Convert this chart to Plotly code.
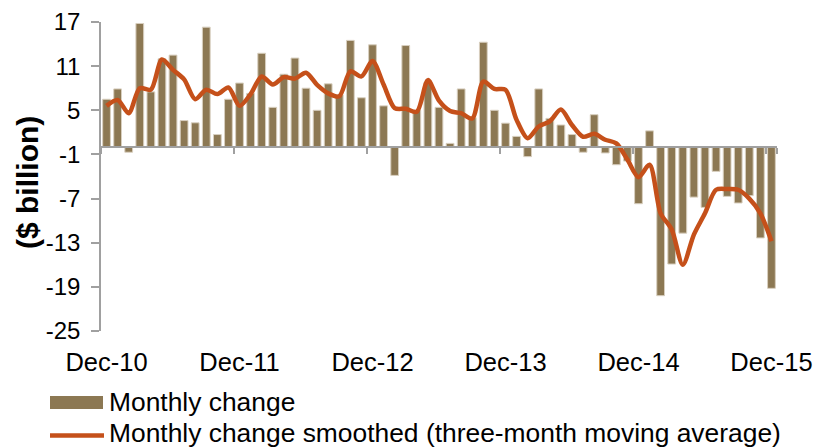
import pandas as pd
import plotly.graph_objects as go

# ---- data ----
months = [d.strftime("%b-%y") for d in pd.date_range("2010-12-01", "2015-12-01", freq="MS")]
tick_labels = ["Dec-10", "Dec-11", "Dec-12", "Dec-13", "Dec-14", "Dec-15"]
y_ticks = [-25, -19, -13, -7, -1, 5, 11, 17]
y_tick_text = ["-25", "-19", "-13", "-7", "-1", "5", "11", "17"]

monthly_change = [
    6.5, 7.9, -0.7, 16.8, 7.5, 12.0, 12.5, 3.6, 3.3, 16.3, 1.7, 6.5,
    8.7, 7.3, 12.75, 5.4, 9.9, 12.1, 8.0, 5.0, 8.6, 7.1, 14.5, 6.7,
    13.9, 5.6, -3.85, 13.8, 5.0, 8.8, 5.4, 0.5, 7.9, 4.0, 14.25, 5.0,
    3.25, 1.45, -1.3, 7.9, 3.9, 3.0, 1.7, -0.7, 4.4, -0.8, -2.4, -1.9,
    -7.7, 2.2, -20.2, -15.9, -11.7, -6.8, -8.2, -3.3, -6.7, -7.6, -6.6, -12.35,
    -19.2,
]
smoothed = [
    5.6, 6.4, 4.6, 8.0, 7.8, 11.9, 10.5, 9.2, 6.5, 7.8, 7.2, 8.1,
    5.6, 7.2, 9.6, 8.5, 9.5, 9.3, 10.1, 8.45, 7.3, 6.9, 10.3, 9.6,
    11.7, 8.5, 5.3, 5.2, 4.8, 9.1, 6.3, 4.9, 4.6, 3.9, 8.9, 7.9,
    7.8, 3.7, 1.2, 2.8, 3.5, 5.1, 3.0, 1.4, 1.8, 1.0, 0.5, -1.7,
    -4.1, -2.4, -9.0, -11.2, -16.0, -11.9, -9.0, -5.8, -5.7, -5.8, -7.0, -9.0,
    -12.8,
]

bar_name = "Monthly change"
line_name = "Monthly change smoothed (three-month moving average)"

# ---- style ----
BAR_COLOR = "#8C7853"
BAR_EDGE = "#D8CFBF"
LINE_COLOR = "#C5501A"
AXIS_COLOR = "#A0A0A0"
FONT = "Liberation Sans, Arial, sans-serif"

YMIN, YMAX = -25, 17
zero_pos = (0 - YMIN) / (YMAX - YMIN)

fig = go.Figure()
fig.add_trace(go.Bar(
    x=months, y=monthly_change, name=bar_name,
    marker=dict(color=BAR_COLOR, line=dict(color=BAR_EDGE, width=1)),
    xaxis="x", yaxis="y", showlegend=False,
))
fig.add_trace(go.Scatter(
    x=months, y=smoothed, name=line_name, mode="lines",
    line=dict(color=LINE_COLOR, width=4.5, shape="spline", smoothing=0.8),
    xaxis="x2", yaxis="y", showlegend=False,
))

fig.update_layout(
    width=823, height=448,
    margin=dict(l=101, r=46, t=22, b=117, autoexpand=False),
    paper_bgcolor="white", plot_bgcolor="white",
    bargap=0.3,
    font=dict(family=FONT, color="black"),
    xaxis=dict(
        type="category", categoryarray=months, categoryorder="array",
        range=[-0.5, len(months) - 0.5],
        tickvals=tick_labels, ticktext=tick_labels,
        ticks="", showline=False, showgrid=False, zeroline=False,
        tickfont=dict(size=25.5, family=FONT, color="black"),
        ticklabelstandoff=13, automargin=False,
    ),
    xaxis2=dict(
        type="category", categoryarray=months, categoryorder="array",
        range=[-0.5, len(months) - 0.5],
        overlaying="x", anchor="free", position=zero_pos, side="bottom",
        tickvals=tick_labels, tickson="boundaries",
        ticks="outside", ticklen=6, tickwidth=1.5, tickcolor=AXIS_COLOR,
        showticklabels=False, showline=True, linecolor=AXIS_COLOR, linewidth=1.5,
        showgrid=False, zeroline=False, automargin=False,
    ),
    yaxis=dict(
        range=[YMIN, YMAX], tickvals=y_ticks, ticktext=y_tick_text,
        ticks="outside", ticklen=8, tickwidth=1.5, tickcolor=AXIS_COLOR,
        showline=True, linecolor=AXIS_COLOR, linewidth=1.5,
        showgrid=False, zeroline=False,
        tickfont=dict(size=24, family=FONT, color="black"),
        ticklabelstandoff=6, automargin=False,
    ),
)

# y-axis title
fig.add_annotation(
    text="<b>($ billion)</b>", xref="paper", yref="paper",
    x=(27 - 101) / 676, y=(331 - 183) / 309, xanchor="center", yanchor="middle",
    textangle=-90, showarrow=False, font=dict(size=30, family=FONT, color="black"),
)

# custom legend
def px_x(px):
    return (px - 101) / 676

def px_y(py):
    return (331 - py) / 309

fig.add_shape(type="rect", xref="paper", yref="paper",
              x0=px_x(50), x1=px_x(103), y0=px_y(409), y1=px_y(396),
              fillcolor=BAR_COLOR, line=dict(width=0))
fig.add_annotation(text=bar_name, xref="paper", yref="paper",
                   x=px_x(107), y=px_y(402), xanchor="left", yanchor="middle",
                   showarrow=False, font=dict(size=26.4, family=FONT, color="black"))
fig.add_shape(type="line", xref="paper", yref="paper",
              x0=px_x(50), x1=px_x(104), y0=px_y(435.5), y1=px_y(435.5),
              line=dict(color=LINE_COLOR, width=4.5))
fig.add_annotation(text=line_name, xref="paper", yref="paper",
                   x=px_x(107), y=px_y(433), xanchor="left", yanchor="middle",
                   showarrow=False, font=dict(size=26.4, family=FONT, color="black"))

fig.write_html(
    "out.html",
    config={"displayModeBar": False},
    post_script="document.body.style.margin='0px';document.body.style.padding='0px';document.body.style.overflow='hidden';",
)
